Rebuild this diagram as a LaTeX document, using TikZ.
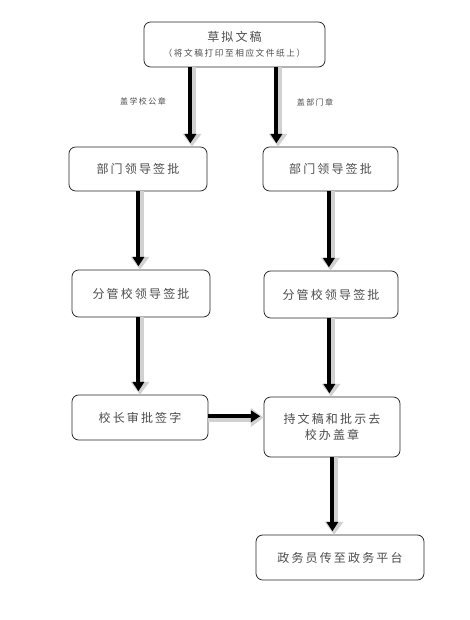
\documentclass[tikz,border=0pt]{standalone}
\usepackage{fontspec}
\setmainfont{Noto Sans CJK SC}[LetterSpace=18]
\usetikzlibrary{arrows.meta,calc,positioning}
\newcommand{\boxfont}{\fontsize{9pt}{12pt}\selectfont}
\tikzset{
    boxsty/.style={draw=black!85,rounded corners=5pt,line width=0.6pt,fill=white,align=center,font=\boxfont,text=black!70,inner sep=0pt},
    notesty/.style={font=\fontsize{6pt}{7pt}\selectfont,text=black!70},
    shadesty/.style={draw=black!18,line width=6pt,-{Triangle[length=9.5pt,width=13.5pt]}},
    inksty/.style={draw=black,line width=3pt,shorten >=2.5pt,-{Triangle[length=7pt,width=8.5pt]}},
}
\newcommand{\fatarrow}[3][yshift=0pt]{%
  \draw[shadesty] #2 -- #3;
  \draw[inksty,transform canvas={#1}] #2 -- #3;}

\begin{document}
\begin{tikzpicture}[x=0.75pt,y=-0.75pt]
  \useasboundingbox (0,0) rectangle (469,620);
  % boxes
  \node[boxsty,minimum width=135.75pt,minimum height=33.75pt] (draft) at (234.5,44.5)
      {草拟文稿\\[-1pt]{\fontsize{6.5pt}{8pt}\selectfont（将文稿打印至相应文件纸上）}};
  \node[boxsty,minimum width=103.5pt,minimum height=33pt] (deptL) at (138,169) {部门领导签批};
  \node[boxsty,minimum width=101.25pt,minimum height=33pt] (deptR) at (330.5,169) {部门领导签批};
  \node[boxsty,minimum width=103.5pt,minimum height=35.25pt] (vpL) at (141,293.5) {分管校领导签批};
  \node[boxsty,minimum width=100.5pt,minimum height=35.25pt] (vpR) at (331,294.5) {分管校领导签批};
  \node[boxsty,minimum width=102pt,minimum height=33.75pt] (head) at (140,417.5) {校长审批签字};
  \node[boxsty,minimum width=102pt,minimum height=45pt] (seal) at (332,427) {持文稿和批示去\\校办盖章};
  \node[boxsty,minimum width=126pt,minimum height=33.75pt] (post) at (340,557.5) {政务员传至政务平台};
  % notes
  \node[notesty] (noteL) at (143,101) {盖学校公章};
  \node[notesty] (noteR) at (315,102) {盖部门章};
  % arrows
  \fatarrow[xshift=-1.2pt]{([xshift=-42.5*0.75pt]draft.south)}{([xshift=-42.5*0.75pt]draft.south |- deptL.north)}
  \fatarrow[xshift=-1.2pt]{([xshift=43.5*0.75pt]draft.south)}{([xshift=43.5*0.75pt]draft.south |- deptR.north)}
  \fatarrow[xshift=-1.2pt]{([xshift=2*0.75pt]deptL.south)}{([xshift=2*0.75pt]deptL.south |- vpL.north)}
  \fatarrow[xshift=-1.2pt]{(deptR.south)}{(deptR.south |- vpR.north)}
  \fatarrow[xshift=-1.2pt]{([xshift=-1*0.75pt]vpL.south)}{([xshift=-1*0.75pt]vpL.south |- head.north)}
  \fatarrow[xshift=-1.2pt]{(vpR.south)}{(vpR.south |- seal.north)}
  \fatarrow[yshift=0.9pt]{(head.east)}{(head.east -| seal.west)}
  \fatarrow[xshift=-1.2pt]{([xshift=2*0.75pt]seal.south)}{([xshift=2*0.75pt]seal.south |- post.north)}
\end{tikzpicture}
\end{document}
